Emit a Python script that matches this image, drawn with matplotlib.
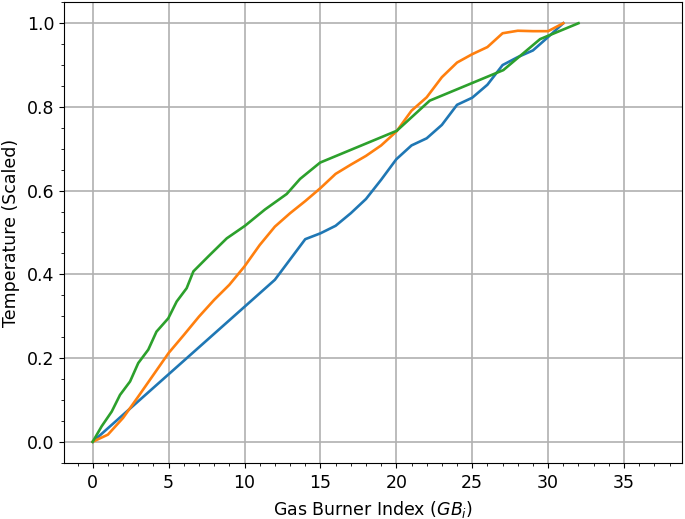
import matplotlib
matplotlib.use("Agg")
import matplotlib.pyplot as plt
from matplotlib.ticker import MultipleLocator

blue_x = [0, 12, 14, 15, 16, 17, 18, 19, 20, 21, 22, 23, 24, 25, 26, 27, 28, 29, 30, 31]
blue_y = [0.0, 0.387, 0.484, 0.498, 0.516, 0.546, 0.580, 0.626, 0.675, 0.708, 0.725,
          0.757, 0.805, 0.822, 0.853, 0.900, 0.919, 0.935, 0.967, 1.0]

orange_x = list(range(0, 32))
orange_y = [0.0, 0.017, 0.057, 0.108, 0.160, 0.212, 0.255, 0.299, 0.339, 0.375, 0.419,
            0.470, 0.514, 0.546, 0.575, 0.606, 0.640, 0.662, 0.683, 0.708, 0.741,
            0.791, 0.823, 0.871, 0.906, 0.926, 0.943, 0.976, 0.982, 0.981, 0.981, 1.0]

green_x = [0, 0.59, 1.25, 1.8, 2.46, 3.0, 3.66, 4.2, 4.98, 5.53, 6.19, 6.63, 7.62, 8.83,
           10.03, 11.35, 12.78, 13.66, 14.98, 20.03, 22.2, 27.05, 29.47, 32.0]
green_y = [0.0, 0.037, 0.072, 0.112, 0.144, 0.188, 0.220, 0.263, 0.295, 0.335, 0.367,
           0.407, 0.443, 0.486, 0.516, 0.555, 0.592, 0.628, 0.667, 0.743, 0.815, 0.888,
           0.962, 1.0]

xlabel = "Gas Burner Index ($GB_i$)"
ylabel = "Temperature (Scaled)"

plt.rcParams['font.size'] = 12.5
fig = plt.figure(figsize=(6.85, 5.19), dpi=100)
ax = fig.add_axes([0.0939, 0.1085, 0.9961 - 0.0939, 0.9956 - 0.1085])
lw = 1.9
ax.plot(blue_x, blue_y, color='#1f77b4', lw=lw)
ax.plot(orange_x, orange_y, color='#ff7f0e', lw=lw)
ax.plot(green_x, green_y, color='#2ca02c', lw=lw)

ax.set_xlim(-1.87, 38.84)
ax.set_ylim(-0.05, 1.05)
ax.xaxis.set_major_locator(MultipleLocator(5))
ax.xaxis.set_minor_locator(MultipleLocator(1))
ax.yaxis.set_major_locator(MultipleLocator(0.2))
ax.yaxis.set_minor_locator(MultipleLocator(0.05))
ax.tick_params(axis='x', which='major', pad=4.5)
ax.grid(True, which='major', color='#b0b0b0', lw=1.2)
ax.set_axisbelow(True)
ax.set_xlabel(xlabel, labelpad=5)
ax.set_ylabel(ylabel, labelpad=5)
fig.savefig("out.png", dpi=100)
